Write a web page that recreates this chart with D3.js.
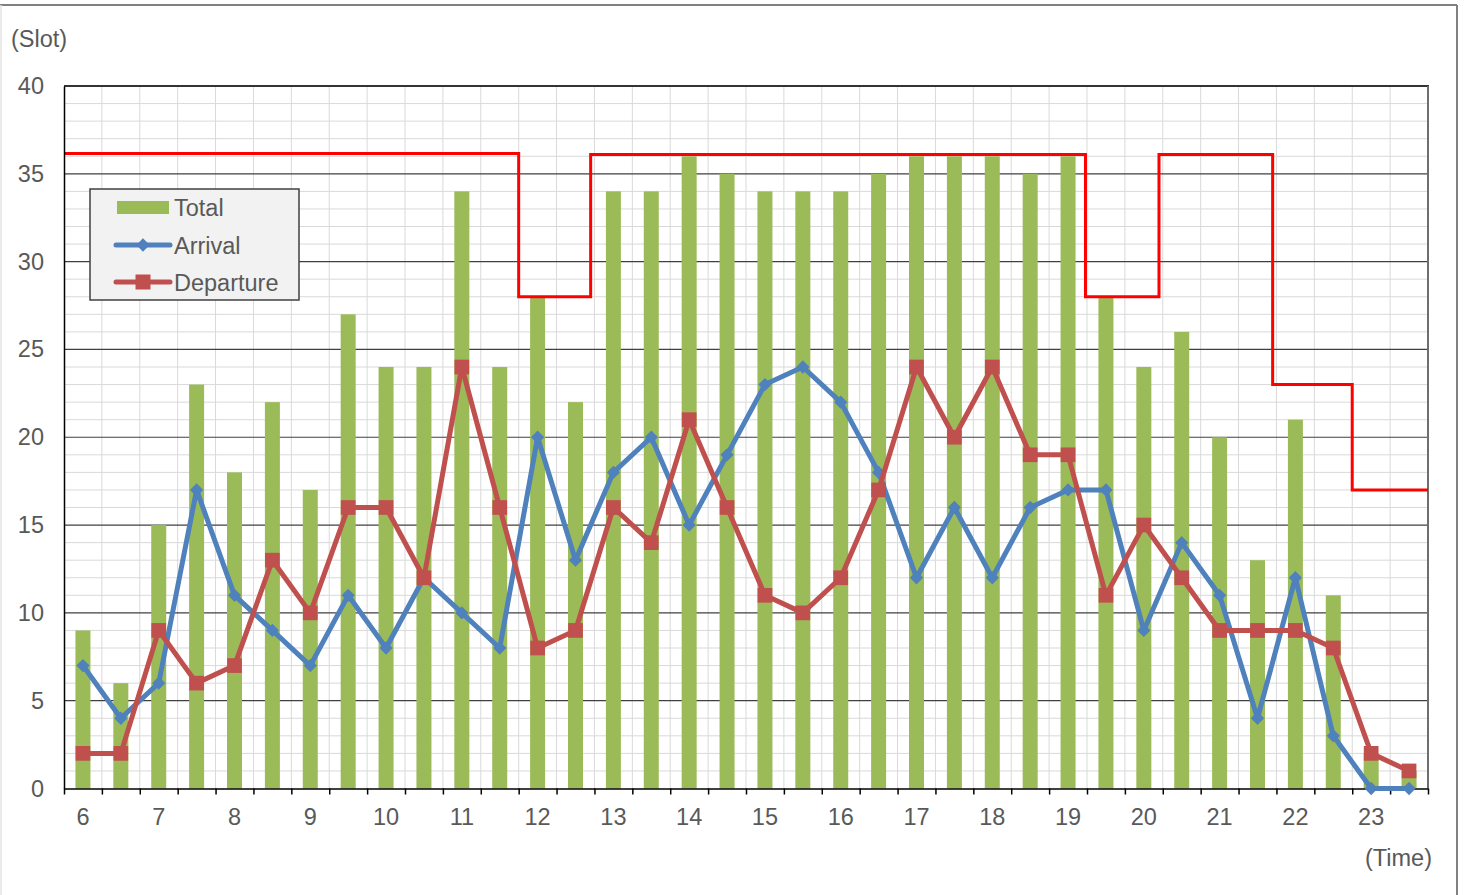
<!DOCTYPE html>
<html>
<head>
<meta charset="utf-8">
<script src="https://cdn.jsdelivr.net/npm/d3@7"></script>
<style>
    body { margin: 0; background: #ffffff; }
    text { font-family: 'Liberation Sans', Arial, sans-serif; fill: #595959; }
</style>
</head>
<body>
<div id="chart"></div>
<script>
// Half-hour slots (categories).
const slots = ['6:00', '6:30', '7:00', '7:30', '8:00', '8:30', '9:00', '9:30',
    '10:00', '10:30', '11:00', '11:30', '12:00', '12:30', '13:00', '13:30',
    '14:00', '14:30', '15:00', '15:30', '16:00', '16:30', '17:00', '17:30',
    '18:00', '18:30', '19:00', '19:30', '20:00', '20:30', '21:00', '21:30',
    '22:00', '22:30', '23:00', '23:30'];
// Series values.
const total = [9, 6, 15, 23, 18, 22, 17, 27, 24, 24, 34, 24, 28, 22, 34, 34,
    36, 35, 34, 34, 34, 35, 36, 36, 36, 35, 36, 28, 24, 26, 20, 13, 21, 11, 2, 1];
const arrival = [7, 4, 6, 17, 11, 9, 7, 11, 8, 12, 10, 8, 20, 13, 18, 20,
    15, 19, 23, 24, 22, 18, 12, 16, 12, 16, 17, 17, 9, 14, 11, 4, 12, 3, 0, 0];
const departure = [2, 2, 9, 6, 7, 13, 10, 16, 16, 12, 24, 16, 8, 9, 16, 14,
    21, 16, 11, 10, 12, 17, 24, 20, 24, 19, 19, 11, 15, 12, 9, 9, 9, 8, 2, 1];
// Capacity steps (start time in hours, value).
const capTimes = [6, 12, 12.95, 19.48, 20.45, 21.95, 23, 24];
const capValues = [36.15, 28, 36.1, 28, 36.1, 23, 17, 17];
// Tick labels.
const hourLabels = ['6', '7', '8', '9', '10', '11', '12', '13', '14', '15',
    '16', '17', '18', '19', '20', '21', '22', '23'];
const yTicks = [0, 5, 10, 15, 20, 25, 30, 35, 40];

const width = 1465, height = 895;
const plotLeft = 64, plotRight = 1428, plotTop = 86, plotBottom = 788.5;
const fontSize = '23.5px';

const svg = d3.select('#chart').append('svg')
    .attr('width', width)
    .attr('height', height);

// Scales.
const x = d3.scaleBand().domain(slots).range([plotLeft, plotRight]).padding(0);
const xTime = d3.scaleLinear().domain([6, 24]).range([plotLeft, plotRight]);
const y = d3.scaleLinear().domain([0, 40]).range([plotBottom, plotTop]);
const cx = function (d, i) { return x(slots[i]) + x.bandwidth() / 2; };

// Outer chart frame.
svg.append('line').attr('x1', 0).attr('x2', 1457).attr('y1', 5).attr('y2', 5)
    .attr('stroke', '#808080').attr('stroke-width', 2);
svg.append('line').attr('x1', 1457).attr('x2', 1457).attr('y1', 5).attr('y2', height)
    .attr('stroke', '#808080').attr('stroke-width', 2);
svg.append('line').attr('x1', 1).attr('x2', 1).attr('y1', 5).attr('y2', height)
    .attr('stroke', '#e3e3e3').attr('stroke-width', 1.5);

// Minor gridlines.
const grid = svg.append('g');
grid.selectAll('.hminor')
    .data(d3.range(1, 40).filter(function (v) { return v % 5 !== 0; }))
    .enter().append('line')
    .attr('x1', plotLeft).attr('x2', plotRight)
    .attr('y1', function (d) { return y(d); })
    .attr('y2', function (d) { return y(d); })
    .attr('stroke', '#d9d9d9').attr('stroke-width', 1);
grid.selectAll('.vminor')
    .data(slots.slice(1))
    .enter().append('line')
    .attr('x1', function (d) { return x(d); })
    .attr('x2', function (d) { return x(d); })
    .attr('y1', plotTop).attr('y2', plotBottom)
    .attr('stroke', '#d9d9d9').attr('stroke-width', 1);
// Major gridlines.
grid.selectAll('.hmajor')
    .data([5, 10, 15, 20, 25, 30, 35])
    .enter().append('line')
    .attr('x1', plotLeft).attr('x2', plotRight)
    .attr('y1', function (d) { return y(d); })
    .attr('y2', function (d) { return y(d); })
    .attr('stroke', '#404040').attr('stroke-width', 1.2);
// Plot border (top and right).
grid.append('line').attr('x1', plotLeft).attr('x2', plotRight + 1)
    .attr('y1', y(40)).attr('y2', y(40))
    .attr('stroke', '#333333').attr('stroke-width', 2);
grid.append('line').attr('x1', plotRight).attr('x2', plotRight)
    .attr('y1', y(40)).attr('y2', plotBottom)
    .attr('stroke', '#6e6e6e').attr('stroke-width', 2);

// Bars (Total).
svg.append('g').selectAll('rect')
    .data(total)
    .enter().append('rect')
    .attr('x', function (d, i) { return cx(d, i) - 7.5; })
    .attr('width', 15)
    .attr('y', function (d) { return y(d); })
    .attr('height', function (d) { return plotBottom - y(d); })
    .attr('fill', '#9bbb59');

// Capacity step line.
const capLine = d3.line()
    .x(function (d, i) { return xTime(capTimes[i]); })
    .y(function (d) { return y(d); })
    .curve(d3.curveStepAfter);
svg.append('path')
    .attr('d', capLine(capValues))
    .attr('fill', 'none')
    .attr('stroke', '#ff0000')
    .attr('stroke-width', 3);

// Axes.
const xAxis = d3.axisBottom(xTime)
    .tickValues(d3.range(6, 24.01, 0.5))
    .tickSize(6)
    .tickSizeOuter(0)
    .tickFormat('');
const gx = svg.append('g')
    .attr('transform', 'translate(0,' + plotBottom + ')')
    .call(xAxis);
gx.selectAll('line, path').attr('stroke', '#000000').attr('stroke-width', 1.5);

const yAxis = d3.axisLeft(y)
    .tickValues(yTicks)
    .tickSize(0)
    .tickSizeOuter(0)
    .tickPadding(20);
const gy = svg.append('g')
    .attr('transform', 'translate(' + plotLeft + ',0)')
    .call(yAxis);
gy.select('.domain').attr('stroke', '#000000').attr('stroke-width', 1.5);
gy.selectAll('text')
    .attr('font-size', fontSize)
    .attr('font-family', "'Liberation Sans', Arial, sans-serif")
    .attr('fill', '#595959');

// Hour labels under the first slot of each hour.
svg.append('g').selectAll('text')
    .data(hourLabels)
    .enter().append('text')
    .attr('x', function (d) { return x(d + ':00') + x.bandwidth() / 2; })
    .attr('y', 825)
    .attr('text-anchor', 'middle')
    .attr('font-size', fontSize)
    .text(function (d) { return d; });

// Arrival line.
const line = d3.line()
    .x(cx)
    .y(function (d) { return y(d); });
svg.append('path')
    .attr('d', line(arrival))
    .attr('fill', 'none')
    .attr('stroke', '#4f81bd')
    .attr('stroke-width', 5)
    .attr('stroke-linejoin', 'round');
svg.append('g').selectAll('path')
    .data(arrival)
    .enter().append('path')
    .attr('d', d3.symbol(d3.symbolDiamond2, 112))
    .attr('transform', function (d, i) { return 'translate(' + cx(d, i) + ',' + y(d) + ')'; })
    .attr('fill', '#4f81bd');

// Departure line.
svg.append('path')
    .attr('d', line(departure))
    .attr('fill', 'none')
    .attr('stroke', '#c0504d')
    .attr('stroke-width', 5)
    .attr('stroke-linejoin', 'round');
svg.append('g').selectAll('path')
    .data(departure)
    .enter().append('path')
    .attr('d', d3.symbol(d3.symbolSquare, 216))
    .attr('transform', function (d, i) { return 'translate(' + cx(d, i) + ',' + y(d) + ')'; })
    .attr('fill', '#c0504d');

// Axis titles.
svg.append('text').attr('x', 11).attr('y', 47)
    .attr('font-size', fontSize).text('(Slot)');
svg.append('text').attr('x', 1432).attr('y', 866)
    .attr('text-anchor', 'end')
    .attr('font-size', fontSize).text('(Time)');

// Legend.
const legend = svg.append('g').attr('transform', 'translate(90,189)');
legend.append('rect')
    .attr('width', 209).attr('height', 111)
    .attr('fill', '#f2f2f2')
    .attr('stroke', '#404040').attr('stroke-width', 1.5);
const rows = [18.5, 56, 93];
legend.append('rect')
    .attr('x', 27).attr('y', rows[0] - 6.5)
    .attr('width', 52).attr('height', 13)
    .attr('fill', '#9bbb59');
legend.append('line')
    .attr('x1', 26).attr('x2', 80).attr('y1', rows[1]).attr('y2', rows[1])
    .attr('stroke', '#4f81bd').attr('stroke-width', 5).attr('stroke-linecap', 'round');
legend.append('path')
    .attr('d', d3.symbol(d3.symbolDiamond2, 112))
    .attr('transform', 'translate(53,' + rows[1] + ')')
    .attr('fill', '#4f81bd');
legend.append('line')
    .attr('x1', 26).attr('x2', 80).attr('y1', rows[2]).attr('y2', rows[2])
    .attr('stroke', '#c0504d').attr('stroke-width', 5).attr('stroke-linecap', 'round');
legend.append('path')
    .attr('d', d3.symbol(d3.symbolSquare, 225))
    .attr('transform', 'translate(53,' + rows[2] + ')')
    .attr('fill', '#c0504d');
legend.selectAll('.label')
    .data(['Total', 'Arrival', 'Departure'])
    .enter().append('text')
    .attr('x', 84)
    .attr('y', function (d, i) { return rows[i] + 8.5; })
    .attr('font-size', '23.5px')
    .attr('fill', '#404040')
    .text(function (d) { return d; });
</script>
</body>
</html>
